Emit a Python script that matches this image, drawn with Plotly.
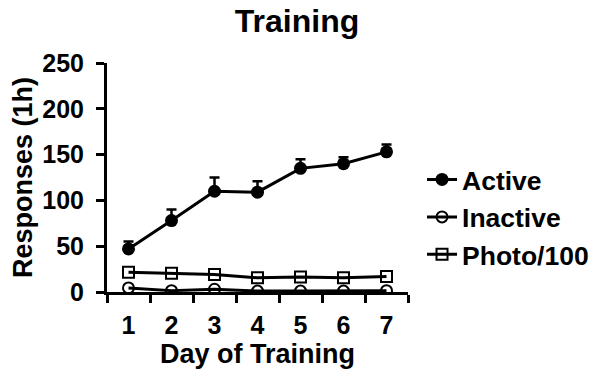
import plotly.graph_objects as go

days = [1, 2, 3, 4, 5, 6, 7]
active = [47, 78, 110, 109, 135, 140, 153]
active_err = [8, 12, 15, 12, 10, 7, 8]
inactive = [4.5, 1.5, 3, 1, 1, 1, 1.5]
photo100 = [21.5, 20.5, 19, 15.5, 16.5, 15.5, 17]
y_ticks = [0, 50, 100, 150, 200, 250]

FONT = "Liberation Sans, Arial, sans-serif"

fig = go.Figure()
fig.add_trace(go.Scatter(
    x=days, y=active, name="<b>Active</b>", mode="lines+markers",
    line=dict(color="black", width=3),
    marker=dict(symbol="circle", size=13, color="black"),
    error_y=dict(type="data", array=active_err, arrayminus=[0]*7, symmetric=False,
                 color="black", thickness=2.5, width=5),
))
fig.add_trace(go.Scatter(
    x=days, y=inactive, name="<b>Inactive</b>", mode="lines+markers",
    line=dict(color="black", width=3),
    marker=dict(symbol="circle-open", size=11, color="black", line=dict(width=2)),
))
fig.add_trace(go.Scatter(
    x=days, y=photo100, name="<b>Photo/100</b>", mode="lines+markers",
    line=dict(color="black", width=3),
    marker=dict(symbol="square-open", size=11, color="black", line=dict(width=2)),
))

# page body has an 8px margin, so the figure is sized/offset to compensate
fig.update_layout(
    width=594, height=377,
    margin=dict(l=99, r=194, t=55, b=93),
    paper_bgcolor="white", plot_bgcolor="white",
    font=dict(family=FONT, color="black"),
    title=dict(text="<b>Training</b>", x=0.4866, xanchor="center",
               yref="container", y=0.966, yanchor="middle",
               font=dict(size=32, family=FONT, color="black")),
    showlegend=True,
    legend=dict(xref="container", yref="container", x=0.697, y=0.445,
                xanchor="left", yanchor="middle",
                font=dict(size=26.5, family=FONT, color="black"),
                itemwidth=30, tracegroupgap=0, bgcolor="rgba(0,0,0,0)"),
    xaxis=dict(
        range=[0.5, 7.5], tickvals=days, ticktext=[f"<b>{d}</b>" for d in days],
        showline=True, linecolor="black", linewidth=3,
        ticks="", showgrid=False, zeroline=False, automargin=False,
        ticklabelstandoff=9,
        tickfont=dict(size=25, family=FONT, color="black"),
        title=dict(text="<b>Day of Training</b>", font=dict(size=27, family=FONT, color="black"), standoff=6),
    ),
    yaxis=dict(
        range=[0, 250], tickvals=y_ticks,
        ticktext=[f"<b>{v}</b>" for v in y_ticks],
        showline=True, linecolor="black", linewidth=3,
        ticks="outside", ticklen=8, tickwidth=2.5, tickcolor="black",
        showgrid=False, zeroline=False, automargin=False,
        ticklabelstandoff=7,
        tickfont=dict(size=25, family=FONT, color="black"),
        title=dict(text="<b>Responses (1h)</b>", font=dict(size=27, family=FONT, color="black"), standoff=8),
    ),
)

fig.update_xaxes(minor=dict(tickvals=[0.5, 1.5, 2.5, 3.5, 4.5, 5.5, 6.5, 7.5], ticks="outside",
                            ticklen=8, tickwidth=2.5, tickcolor="black"))

fig.write_html("out.html")
